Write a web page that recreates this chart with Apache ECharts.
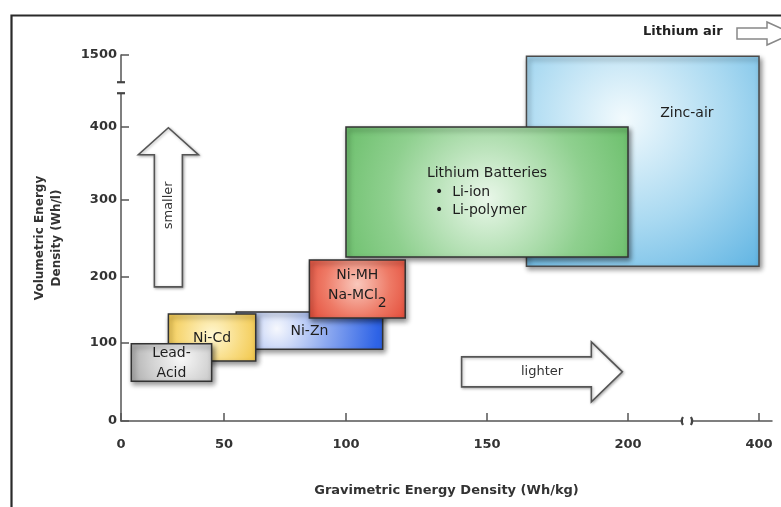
<!DOCTYPE html>
<html>
<head>
<meta charset="utf-8">
<script src="https://cdn.jsdelivr.net/npm/echarts@6/dist/echarts.min.js"></script>
<style>
  html, body { margin: 0; padding: 0; background: #fff; }
  #chart { width: 781px; height: 507px; }
</style>
</head>
<body>
<div id="chart"></div>
<script>
// Battery chemistries, listed back to front (later ones overlap earlier ones)
const chemistries     = ['Zinc-air', 'Lithium Batteries', 'Ni-Zn', 'Ni-MH', 'Ni-Cd', 'Lead-Acid'];
const gravimetricLow  = [164, 100, 55, 85, 23, 5];       // Wh/kg
const gravimetricHigh = [400, 200, 113, 121, 63, 44];    // Wh/kg
const volumetricLow   = [214, 226, 92, 138, 77, 51];     // Wh/l
const volumetricHigh  = [1480, 400, 147, 222, 144, 99];  // Wh/l

// Tick values on the two broken axes
const xTickValues = [0, 50, 100, 150, 200, 400];
const yTickValues = [0, 100, 200, 300, 400, 1500];
// Where each axis is broken (Wh/kg, Wh/l)
const xBreakValue = 290;
const yBreakValue = 1000;

// Trend arrows: [from, to] in Wh/kg and Wh/l
const arrowLabels   = ['smaller', 'lighter'];
const arrowGravFrom = [23, 141];
const arrowGravTo   = [23, 198];
const arrowVolFrom  = [185, 63];
const arrowVolTo    = [399, 63];

// ---- schematic axis spacing (the axes are not drawn to a uniform scale) ----
const X_SPAN = 651, Y_SPAN = 366;
const xTickSpacing = [0, 103, 225, 366, 507, 638];
const yTickSpacing = [0, 78, 144, 221, 294, 366];

function piecewise(v, vals, pos) {
  let i = 0;
  while (i < vals.length - 2 && v > vals[i + 1]) i++;
  const t = (v - vals[i]) / (vals[i + 1] - vals[i]);
  return pos[i] + t * (pos[i + 1] - pos[i]);
}
const gx = v => piecewise(v, xTickValues, xTickSpacing);
const gy = v => piecewise(v, yTickValues, yTickSpacing);

function tickText(value, spacing, values) {
  for (let i = 0; i < spacing.length; i++) {
    if (Math.abs(spacing[i] - value) < 0.01) return String(values[i]);
  }
  return '';
}

const FONT = 'DejaVu Sans';
const RG = (x, y, r, stops) =>
  new echarts.graphic.RadialGradient(x, y, r, stops.map((c, i) => ({ offset: i / (stops.length - 1), color: c })));

const boxFills = {
  'Zinc-air':          RG(0.42, 0.3, 1.0, ['#f2fafd', '#a9d9f1', '#58b0e1']),
  'Lithium Batteries': RG(0.5, 0.55, 1.5, ['#e9f7e9', '#8fd08f', '#55b455']),
  'Ni-Zn':             RG(0.28, 0.45, 2.6, ['#f6f8fd', '#8eaaf0', '#2e63e6']),
  'Ni-MH':             RG(0.5, 0.42, 1.1, ['#f9c8bc', '#ee7a66', '#e0412f']),
  'Ni-Cd':             RG(0.5, 0.45, 1.2, ['#fff7d2', '#f8db80', '#efbf36']),
  'Lead-Acid':         RG(0.62, 0.4, 1.6, ['#f8f8f8', '#d0d0d0', '#a0a0a0'])
};

const boxData = chemistries.map((n, i) =>
  [gravimetricLow[i], gravimetricHigh[i], volumetricLow[i], volumetricHigh[i]]);

const textStyle = (extra) => Object.assign({
  fill: '#1e1e1e', font: '14px "' + FONT + '"', align: 'center', verticalAlign: 'middle'
}, extra);

function renderBox(params, api) {
  const name = chemistries[params.dataIndex];
  const p0 = api.coord([gx(api.value(0)), gy(api.value(3))]);
  const p1 = api.coord([gx(api.value(1)), gy(api.value(2))]);
  const x = p0[0], y = p0[1], w = p1[0] - p0[0], h = p1[1] - p0[1];
  const cx = x + w / 2, cy = y + h / 2;
  const children = [{
    type: 'rect',
    shape: { x: x, y: y, width: w, height: h },
    style: {
      fill: boxFills[name], stroke: name === 'Zinc-air' ? '#4a4a4a' : '#333',
      lineWidth: 1.5, shadowBlur: 5, shadowOffsetX: 2, shadowOffsetY: 3,
      shadowColor: 'rgba(0,0,0,0.45)'
    }
  }];
  if (name === 'Lithium Batteries') {
    children.push({ type: 'text', style: textStyle({ text: 'Lithium Batteries', x: cx, y: cy - 19 }) });
    children.push({ type: 'text', style: textStyle({ text: '\u2022  Li-ion', x: cx - 52, y: cy, align: 'left' }) });
    children.push({ type: 'text', style: textStyle({ text: '\u2022  Li-polymer', x: cx - 52, y: cy + 18, align: 'left' }) });
  } else if (name === 'Zinc-air') {
    children.push({ type: 'text', style: textStyle({ text: 'Zinc-air', x: x + w * 0.69, y: y + 57 }) });
  } else if (name === 'Ni-MH') {
    children.push({ type: 'text', style: textStyle({ text: 'Ni-MH', x: cx, y: cy - 14 }) });
    children.push({
      type: 'text',
      style: textStyle({
        text: 'Na-MCl{s|2}', x: cx, y: cy + 6,
        rich: { s: { fontSize: 14, fontFamily: FONT, padding: [17, 0, 0, 0], fill: '#1e1e1e' } }
      })
    });
  } else if (name === 'Lead-Acid') {
    children.push({ type: 'text', style: textStyle({ text: 'Lead-\nAcid', x: cx, y: cy + 1, lineHeight: 20 }) });
  } else {
    children.push({ type: 'text', style: textStyle({ text: name, x: cx, y: cy + 1 }) });
  }
  return { type: 'group', children: children };
}

const arrowData = arrowLabels.map((t, i) =>
  [arrowGravFrom[i], arrowGravTo[i], arrowVolFrom[i], arrowVolTo[i]]);

function renderArrow(params, api) {
  const a = api.coord([gx(api.value(0)), gy(api.value(2))]);
  const b = api.coord([gx(api.value(1)), gy(api.value(3))]);
  const label = arrowLabels[params.dataIndex];
  let pts, tx, ty, rot = 0;
  if (Math.abs(b[1] - a[1]) > Math.abs(b[0] - a[0])) {
    // pointing up
    const cx = a[0], yb = a[1], yt = b[1], hl = 27;
    pts = [[cx - 14, yb], [cx - 14, yt + hl], [cx - 30, yt + hl], [cx, yt],
           [cx + 30, yt + hl], [cx + 14, yt + hl], [cx + 14, yb]];
    tx = cx; ty = (yb + yt) / 2 - 2; rot = Math.PI / 2;
  } else {
    // pointing right
    const cy = a[1], xl = a[0], xr = b[0], hl = 31;
    pts = [[xl, cy - 15], [xr - hl, cy - 15], [xr - hl, cy - 30], [xr, cy],
           [xr - hl, cy + 30], [xr - hl, cy + 15], [xl, cy + 15]];
    tx = (xl + xr) / 2; ty = cy;
  }
  return {
    type: 'group',
    children: [
      { type: 'polygon', shape: { points: pts },
        style: { fill: '#fff', stroke: '#555', lineWidth: 1.6, shadowBlur: 3,
                 shadowOffsetX: 1, shadowOffsetY: 1, shadowColor: 'rgba(0,0,0,0.3)' } },
      { type: 'text', x: tx, y: ty, rotation: rot,
        style: { text: label, fill: '#333', font: '13px "' + FONT + '"', align: 'center', verticalAlign: 'middle' } }
    ]
  };
}

// Gaps in both axis lines
function renderBreaks(params, api) {
  const px = api.coord([gx(xBreakValue), 0]);
  const py = api.coord([0, gy(yBreakValue)]);
  const ink = { stroke: '#444', lineWidth: 2.2 };
  return {
    type: 'group',
    children: [
      { type: 'rect', shape: { x: px[0] - 4, y: px[1] - 3, width: 8, height: 6 }, style: { fill: '#fff' } },
      { type: 'bezierCurve', shape: { x1: px[0] - 4, y1: px[1] - 4, x2: px[0] - 4, y2: px[1] + 4, cpx1: px[0] - 6.5, cpy1: px[1] }, style: ink },
      { type: 'bezierCurve', shape: { x1: px[0] + 4, y1: px[1] - 4, x2: px[0] + 4, y2: px[1] + 4, cpx1: px[0] + 6.5, cpy1: px[1] }, style: ink },
      { type: 'rect', shape: { x: py[0] - 3, y: py[1] - 5.5, width: 6, height: 11 }, style: { fill: '#fff' } },
      { type: 'line', shape: { x1: py[0] - 4, y1: py[1] - 5.5, x2: py[0] + 4, y2: py[1] - 5.5 }, style: ink },
      { type: 'line', shape: { x1: py[0] - 4, y1: py[1] + 5.5, x2: py[0] + 4, y2: py[1] + 5.5 }, style: ink }
    ]
  };
}

const axisCommon = {
  type: 'value',
  splitLine: { show: false },
  axisLine: { show: true, lineStyle: { color: '#555', width: 1.5 } },
  nameTextStyle: { fontFamily: FONT, fontWeight: 'bold', fontSize: 13, color: '#333' }
};

const chart = echarts.init(document.getElementById('chart'), null, { renderer: 'canvas' });
chart.setOption({
  animation: false,
  backgroundColor: '#fff',
  grid: { left: 121, right: 9, top: 55, bottom: 86, containLabel: false },
  xAxis: Object.assign({}, axisCommon, {
    min: 0, max: X_SPAN,
    name: 'Gravimetric Energy Density (Wh/kg)',
    nameLocation: 'middle', nameGap: 63,
    axisTick: { show: true, inside: true, length: 8, customValues: xTickSpacing,
                lineStyle: { color: '#555', width: 1.5 } },
    axisLabel: { customValues: xTickSpacing, margin: 17,
                 formatter: v => tickText(v, xTickSpacing, xTickValues),
                 fontFamily: FONT, fontWeight: 'bold', fontSize: 13, color: '#333' }
  }),
  yAxis: Object.assign({}, axisCommon, {
    min: 0, max: Y_SPAN,
    name: 'Volumetric Energy\nDensity (Wh/l)',
    nameLocation: 'middle', nameGap: 56, nameRotate: 90,
    nameTextStyle: { fontFamily: FONT, fontWeight: 'bold', fontSize: 12, color: '#333', lineHeight: 17 },
    axisTick: { show: true, inside: true, length: 8, customValues: yTickSpacing,
                lineStyle: { color: '#555', width: 1.5 } },
    axisLabel: { customValues: yTickSpacing, margin: 4,
                 formatter: v => tickText(v, yTickSpacing, yTickValues),
                 fontFamily: FONT, fontWeight: 'bold', fontSize: 13, color: '#333' }
  }),
  graphic: [
    { type: 'rect', left: 9, top: 13, z: 100, silent: true,
      shape: { width: 800, height: 600 },
      style: { fill: 'none', stroke: '#2a2a2a', lineWidth: 2.2 } },
    { type: 'text', left: 643, top: 25, z: 100,
      style: { text: 'Lithium air', fill: '#222', font: 'bold 13px "' + FONT + '"' } },
    { type: 'polygon', z: 100,
      shape: { points: [[737, 28], [767, 28], [767, 22], [792, 33.5], [767, 45], [767, 39], [737, 39]] },
      style: { fill: '#fff', stroke: '#888', lineWidth: 1.5 } }
  ],
  series: [
    { type: 'custom', name: 'chemistries', renderItem: renderBox, data: boxData,
      encode: { x: [0, 1], y: [2, 3] }, clip: false, z: 3 },
    { type: 'custom', name: 'trends', renderItem: renderArrow, data: arrowData,
      encode: { x: [0, 1], y: [2, 3] }, clip: false, z: 2 },
    { type: 'custom', name: 'axis breaks', renderItem: renderBreaks, data: [[0, 0]],
      clip: false, z: 4 }
  ]
});
</script>
</body>
</html>
